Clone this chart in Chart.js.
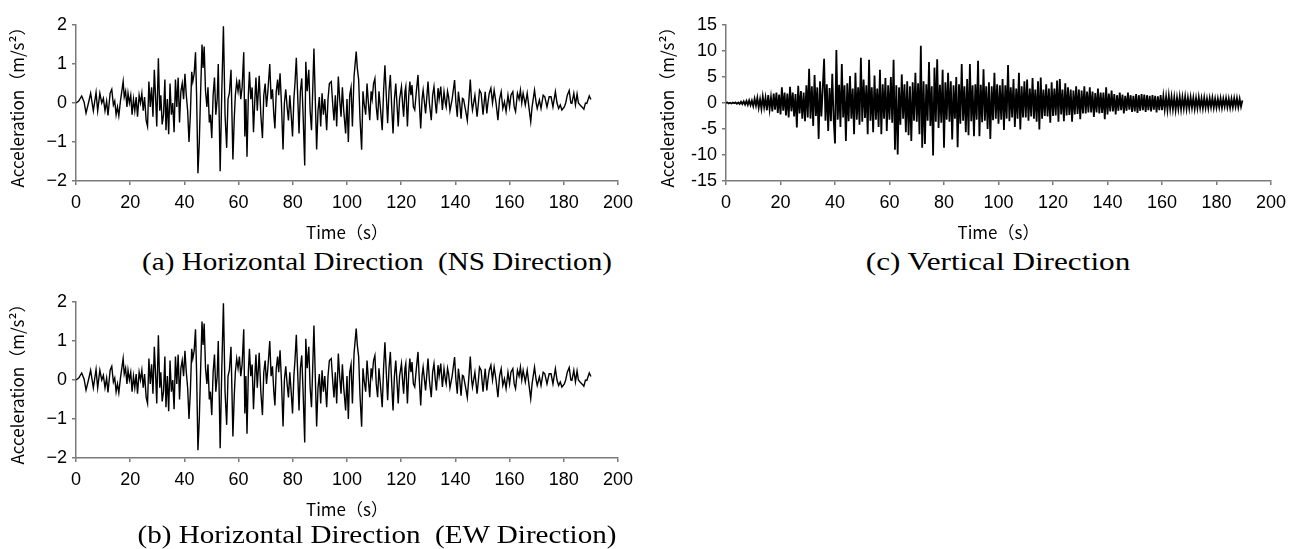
<!DOCTYPE html>
<html lang="en">
<head>
<meta charset="UTF-8">
<title>Acceleration Time Histories</title>
<script src="https://cdn.jsdelivr.net/npm/chart.js"></script>
<style>
  body { margin: 0; background: #fff; width: 1295px; height: 549px; position: relative; overflow: hidden; }
  canvas { position: absolute; }
  .cap {
    position: absolute; font-family: 'Liberation Serif', serif; font-size: 26px; line-height: 1;
    white-space: pre; color: #000; transform: translate(-50%, -50%) scaleX(1.12);
  }
  .cap.wide { transform: translate(-50%, -50%) scaleX(1.2); }
</style>
</head>
<body>
<canvas id="nsChart" width="640" height="245" style="left:0;top:0"></canvas>
<canvas id="ewChart" width="640" height="245" style="left:0;top:277px"></canvas>
<canvas id="udChart" width="645" height="245" style="left:650px;top:0"></canvas>
<div class="cap" style="left:377px;top:262px">(a) Horizontal Direction  (NS Direction)</div>
<div class="cap" style="left:377px;top:535px">(b) Horizontal Direction  (EW Direction)</div>
<div class="cap wide" style="left:998px;top:262px">(c) Vertical Direction</div>

<script>
// horizontal NS record: turning points (time s, accel m/s2)
const nsTime = [
  0, 1.0, 2.1, 3.0, 3.7, 4.6, 5.4, 6.4, 7.4, 8.0,
  8.8, 9.5, 10.1, 10.7, 11.3, 11.8, 12.6, 13.2, 13.8, 14.3,
  14.8, 15.3, 15.8, 16.4, 17.0, 17.4, 17.8, 18.3, 18.8, 19.2,
  19.7, 20.2, 20.7, 21.2, 21.7, 22.2, 22.7, 23.3, 23.8, 24.3,
  24.8, 25.3, 25.9, 26.4, 26.9, 27.4, 27.9, 28.4, 28.9, 29.4,
  29.8, 30.4, 30.9, 31.3, 31.8, 32.3, 32.8, 33.2, 33.7, 34.2,
  34.7, 35.2, 35.7, 36.2, 36.7, 37.2, 37.7, 38.2, 38.7, 39.2,
  39.7, 40.2, 40.7, 41.2, 41.7, 42.2, 42.7, 43.1, 43.6, 44.1,
  44.5, 45.0, 45.5, 46.0, 46.5, 46.9, 47.3, 47.8, 48.3, 48.7,
  49.2, 49.6, 50.1, 50.6, 51.1, 51.6, 52.1, 52.5, 53.2, 53.8,
  54.4, 55.0, 55.6, 56.1, 56.6, 57.2, 57.9, 58.4, 58.8, 59.3,
  59.8, 60.3, 60.8, 61.3, 61.9, 62.3, 62.7, 63.1, 63.6, 64.0,
  64.5, 65.0, 65.5, 66.0, 66.4, 66.9, 67.6, 68.2, 68.8, 69.3,
  69.8, 70.3, 70.8, 71.5, 72.0, 72.5, 73.0, 73.4, 73.9, 74.4,
  74.8, 75.3, 75.8, 76.4, 76.9, 77.4, 77.9, 78.4, 78.9, 79.4,
  79.9, 80.4, 80.8, 81.3, 81.8, 82.3, 82.8, 83.3, 83.8, 84.4,
  84.8, 85.3, 85.9, 86.4, 86.9, 87.3, 87.8, 88.3, 88.8, 89.3,
  89.8, 90.3, 90.8, 91.3, 91.8, 92.5, 93.0, 93.5, 94.2, 94.7,
  95.2, 95.7, 96.2, 96.8, 97.3, 97.8, 98.3, 98.8, 99.5, 100.0,
  100.5, 101.0, 101.5, 102.0, 102.6, 103.0, 103.4, 103.8, 104.3, 104.8,
  105.4, 105.9, 106.3, 106.9, 107.4, 107.9, 108.4, 108.9, 109.3, 109.8,
  110.3, 110.8, 111.3, 111.8, 112.3, 113.0, 113.5, 114.0, 114.5, 115.0,
  115.5, 116.0, 116.5, 117.0, 117.5, 118.0, 118.5, 118.9, 119.4, 120.1,
  120.6, 120.9, 121.4, 121.7, 122.3, 122.8, 123.2, 123.6, 124.0, 124.5,
  125.0, 125.6, 126.2, 126.7, 127.2, 127.7, 128.1, 128.6, 129.0, 129.9,
  130.4, 131.1, 131.6, 132.1, 132.6, 133.0, 133.6, 134.0, 134.6, 135.2,
  135.8, 136.3, 136.6, 137.1, 137.5, 138.0, 138.8, 139.7, 140.2, 140.7,
  141.1, 141.6, 142.1, 142.6, 143.0, 143.8, 144.4, 145.0, 145.5, 146.0,
  146.3, 147.2, 148.0, 148.5, 148.9, 149.5, 150.2, 150.6, 151.0, 151.6,
  152.0, 152.5, 153.1, 153.7, 154.3, 155.0, 155.7, 156.3, 156.9, 157.5,
  158.1, 158.7, 159.4, 160.0, 160.5, 161.2, 161.7, 162.2, 162.9, 163.5,
  164.0, 164.5, 165.0, 165.8, 166.5, 167.3, 167.8, 168.3, 169.2, 169.8,
  170.2, 171.0, 171.6, 172.4, 173.0, 173.8, 174.6, 175.3, 176.0, 176.9,
  177.5, 178.1, 178.7, 179.3, 180.2, 180.7, 181.3, 182.0, 182.6, 183.0,
  183.7, 184.3, 184.9, 185.4, 186.0, 186.7, 187.4, 188.0, 188.5, 189.4,
  190.0
];
const nsAccel = [
  0, 0.05, 0.18, 0.02, -0.26, 0.0, 0.25, -0.2, 0.27, -0.2,
  0.25, 0.0, 0.12, -0.2, 0.05, -0.32, 0.25, 0.35, -0.05, 0.05,
  -0.3, -0.1, -0.33, 0.05, 0.35, 0.55, 0.15, 0.3, -0.1, 0.25,
  0.0, 0.2, -0.3, 0.1, -0.2, 0.15, -0.35, 0.2, 0.0, 0.25,
  -0.2, 0.15, -0.45, -0.6, 0.55, -0.1, 0.4, -0.35, 0.85, 0.1,
  -0.6, 1.15, -0.2, 0.2, -0.55, -0.3, 0.6, -0.7, 0.1, -0.8,
  0.5, -0.3, 0.0, -0.75, 0.6, -0.1, 0.65, -0.5, 0.3, 0.5,
  0.1, 0.75, 0.2, -0.2, -1.0, -0.3, 0.8, 0.55, 0.75, 1.3,
  0.2, -1.8, -1.0, 0.3, 1.5, 0.9, 1.45, 0.3, -0.1, 0.4,
  -0.5, -0.3, -0.9, 0.2, 0.65, -0.3, 0.1, 1.0, -1.75, 0.3,
  1.97, -0.3, -1.15, 0.1, 0.25, 0.85, -1.45, -0.4, 0.2, 0.55,
  0.3, 0.6, 0.1, 0.4, 1.3, -0.86, 0.1, -1.38, 0.2, 0.8,
  0.1, 0.4, -0.75, 0.1, 0.65, -0.2, 0.7, -0.3, -0.9, 0.2,
  0.5, -0.1, 0.3, 1.0, 0.1, 0.35, -0.3, -0.65, 0.3, 0.6,
  0.2, 0.76, 0.0, -1.19, 0.0, 0.35, -0.1, -0.45, 0.2, -0.3,
  -0.86, 0.1, 0.5, 1.16, 0.2, -0.78, 0.3, 0.63, -0.3, -1.6,
  1.06, 0.3, 0.85, -0.2, -0.7, 0.2, 1.4, 0.1, -1.19, -0.2,
  0.15, -0.6, 0.25, -0.3, 0.1, -0.7, 0.1, 0.5, 0.55, 0.0,
  -0.45, 0.2, -0.6, 0.68, 0.1, -0.35, 0.4, -0.2, -0.78, 0.1,
  -1.0, 0.2, 0.4, -0.6, 0.68, 1.0, 1.32, 0.9, 0.6, -0.4,
  -1.2, 0.3, 0.0, -0.3, 0.5, 0.0, -0.44, 0.3, 0.1, 0.5,
  0.63, -0.1, -0.44, 0.3, -0.1, -0.7, 0.3, 0.97, 0.2, -0.52,
  0.3, 0.72, -0.1, -0.78, 0.1, 0.5, -0.1, -0.6, 0.1, 0.42,
  -0.1, -0.35, 0.3, 0.42, -0.6, 0.2, 0.55, 0.2, 0.46, -0.1,
  -0.18, 0.3, 0.72, 0.0, -0.65, 0.1, 0.33, 0.0, -0.27, 0.55,
  0.0, -0.44, 0.2, 0.42, 0.0, -0.27, 0.38, 0.1, 0.42, -0.18,
  0.29, 0.0, -0.1, 0.3, 0.16, -0.2, 0.1, 0.59, 0.0, -0.35,
  0.29, 0.0, -0.4, 0.12, 0.1, -0.2, -0.45, 0.1, 0.6, 0.0,
  -0.18, 0.2, -0.35, 0.0, 0.33, 0.25, -0.3, 0.0, 0.29, -0.27,
  0.0, 0.25, 0.38, 0.0, 0.33, 0.0, -0.44, 0.1, 0.29, -0.14,
  0.03, -0.22, 0.2, -0.1, 0.2, 0.29, -0.1, -0.22, 0.25, 0.1,
  0.33, 0.0, 0.25, -0.05, 0.25, -0.2, -0.48, -0.1, 0.33, 0.0,
  -0.14, 0.08, -0.14, 0.2, 0.16, -0.1, 0.16, 0.16, -0.1, 0.29,
  0.0, -0.14, -0.05, -0.18, -0.1, 0.0, 0.2, 0.32, 0.0, -0.01,
  0.25, -0.05, 0.23, 0.0, -0.05, -0.1, -0.16, 0.0, -0.01, 0.18,
  0.09
];

// the EW panel in the figure shows the same trace as NS
const ewTime = nsTime;
const ewAccel = nsAccel;

// vertical record, sampled every 0.5 s from 0 s
const udStep = 0.5;
const udAccel = [
  0, 0.1, -0.1, 0.05, -0.1, 0.1, -0.05, 0.1, -0.15, 0.1, -0.2, 0.25, -0.2, 0.3, -0.3, 0.4, -0.35, 0.5, -0.4, 0.45,
  -0.6, 0.8, -0.5, 1.0, -0.9, 0.7, -1.1, 1.2, -0.8, 1.0, -1.4, 1.5, -1.2, 1.1, -1.6, 1.8, -1.3, 2.0, -1.9, 1.6,
  -2.2, 3.0, -1.5, 2.0, -2.4, 1.8, -2.8, 3.1, -1.6, 2.0, -2.6, 1.7, -4.7, 3.3, -2.0, 2.3, -3.0, 2.0, -3.5, 3.4,
  -2.8, 6.6, -3.0, 3.2, -4.4, 5.4, -2.5, 3.0, -6.9, 4.2, -2.6, 2.8, 8.5, -3.4, 3.6, -5.4, 2.9, -3.5, 5.6, -3.0,
  -7.8, 10.2, -3.2, 3.5, -4.6, 7.5, -2.8, 3.4, -7.3, 3.8, -3.5, 5.2, -3.0, 2.8, -6.0, 5.8, -3.2, 3.0, -4.2, 8.7,
  -3.6, 4.5, -2.9, 3.4, -6.0, 8.3, -3.4, 3.0, -5.6, 5.3, -3.2, 2.8, -4.6, 6.4, -6.0, 3.6, -3.0, 4.8, -5.4, 3.4,
  -3.2, 5.0, -3.8, 8.3, -9.0, 3.4, -9.9, 3.0, -4.2, 5.5, -3.0, 3.6, -5.6, 4.2, -6.2, 3.2, -7.3, 4.0, -3.4, 5.8,
  -3.6, 3.8, -6.0, 11.0, -8.6, 4.2, -7.9, 3.6, -3.4, 7.9, -4.4, 3.2, -10.1, 6.8, -3.6, 8.4, -4.8, 3.5, -3.8, 6.4,
  -8.6, 4.0, -3.2, 5.8, -3.6, 4.2, -7.0, 3.4, -3.0, 5.0, -8.5, 3.6, -4.0, 7.5, -3.4, 3.2, -5.6, 4.6, -6.2, 7.5,
  -3.5, 3.4, -6.4, 3.6, -3.2, 8.1, -6.4, 3.5, -3.7, 6.5, -3.4, 3.2, -5.0, 4.0, -6.9, 3.2, -3.3, 5.8, -3.0, 3.6,
  -4.0, 3.4, -3.2, 4.6, -5.2, 3.4, -3.0, 7.3, -3.5, 3.0, -2.8, 4.6, -4.6, 2.8, -3.0, 5.8, -5.1, 3.2, -2.8, 4.2,
  -2.8, 4.5, -3.4, 2.8, -2.6, 4.8, -3.0, 2.6, -3.6, 4.2, -5.1, 4.9, -3.0, 2.6, -2.5, 3.6, -2.6, 2.8, -3.8, 4.0,
  -2.5, 2.8, -2.4, 4.3, -3.6, 4.6, -2.2, 2.6, -3.5, 3.8, -2.4, 3.0, -2.3, 2.6, -3.6, 2.4, -2.2, 3.2, -2.1, 2.6,
  -3.1, 2.4, -2.0, 3.2, -2.0, 2.2, -1.8, 3.0, -1.8, 2.2, -2.7, 1.9, -1.8, 2.8, -2.0, 2.0, -1.9, 2.0, -3.1, 3.0,
  -2.2, 1.8, -1.6, 2.4, -1.6, 1.7, -2.2, 1.5, -1.5, 2.0, -1.4, 1.6, -2.0, 1.4, -1.5, 2.0, -1.3, 1.5, -1.7, 1.4,
  -1.6, 1.7, -1.9, 1.5, -1.5, 1.7, -1.4, 1.6, -1.7, 1.5, -1.4, 1.4, -1.6, 1.5, -1.3, 1.4, -1.8, 1.3, -1.4, 1.5,
  -1.4, 1.3, -1.2, 1.2, -1.3, 1.4, -1.1, 1.2, -1.2, 1.1, -1.3, 1.0, -1.1, 1.2, -1.2, 1.1, -1.0, 1.2, -1.1, 1.0,
  -1.0, 1.1, -0.9, 1.0, -1.1, 0.9, -1.0, 1.1, -0.9, 0.9, -1.0, 1.0, -0.9, 0.8, -1.0, 0.9, -0.8, 1.0, -0.9, 0.8,
  -0.9, 0.8, -0.8, 0.9, -0.9, 0.8, -0.7, 0.9, -0.8, 0.8, -0.9, 0.8, -0.8, 0.9, -0.7, 0.9, -0.8, 0.8, -0.7, 0.5
];
const udTime = udAccel.map((_, i) => i * udStep);

const xTicks = [0, 20, 40, 60, 80, 100, 120, 140, 160, 180, 200];
const xTitle = 'Time\uFF08s\uFF09';
const yTitle = 'Acceleration\uFF08m/s\u00B2\uFF09';

const axisColor = '#7a7a7a';
const tickFont = { family: "'Liberation Sans', Arial, sans-serif", size: 18 };
const titleFont = { family: "'Noto Sans CJK JP', 'Noto Sans', sans-serif", size: 17 };

function makeChart(id, times, values, yMin, yMax, yStep, longMinus, rightPad, lineW) {
  const pts = times.map((t, i) => ({ x: t, y: values[i] }));
  return new Chart(document.getElementById(id), {
    type: 'line',
    data: {
      datasets: [{
        data: pts,
        borderColor: '#000',
        borderWidth: lineW,
        pointRadius: 0,
        tension: 0
      }]
    },
    options: {
      responsive: false,
      animation: false,
      events: [],
      layout: { padding: { top: 25, right: rightPad, bottom: 0, left: 0 } },
      plugins: { legend: { display: false }, tooltip: { enabled: false } },
      scales: {
        x: {
          type: 'linear', min: 0, max: 200,
          afterBuildTicks: s => { s.ticks = xTicks.map(v => ({ value: v })); },
          afterFit: s => { s.height = 64; },
          border: { color: axisColor, width: 1.5 },
          grid: { drawOnChartArea: false, drawTicks: true, tickLength: 4, color: axisColor, lineWidth: 1.5 },
          ticks: { color: '#000', font: tickFont, padding: 7, maxRotation: 0, autoSkip: false },
          title: { display: true, text: xTitle, color: '#000', font: titleFont, padding: { top: 0, bottom: 2 } }
        },
        y: {
          min: yMin, max: yMax,
          ticks: {
            stepSize: yStep, color: '#000', font: tickFont, padding: 5,
            callback: v => longMinus ? String(v).replace('-', '\u2212') : String(v)
          },
          afterFit: s => { s.width = 76; },
          border: { color: axisColor, width: 1.5 },
          grid: { drawOnChartArea: false, drawTicks: true, tickLength: 4, color: axisColor, lineWidth: 1.5 },
          title: { display: true, text: yTitle, color: '#000', font: titleFont, padding: { top: 7, bottom: 0 } }
        }
      }
    }
  });
}

makeChart('nsChart', nsTime, nsAccel, -2, 2, 1, true, 18, 1.4);
makeChart('ewChart', ewTime, ewAccel, -2, 2, 1, true, 18, 1.4);
makeChart('udChart', udTime, udAccel, -15, 15, 5, false, 24, 1.8);
</script>
</body>
</html>
